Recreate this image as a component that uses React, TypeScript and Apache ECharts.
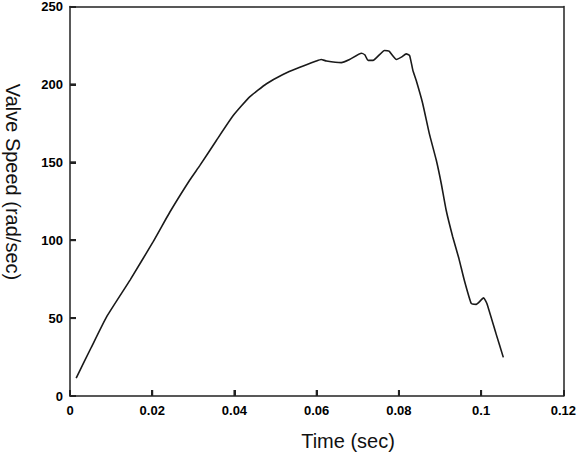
import React, { useEffect, useRef } from "react";
import * as echarts from "echarts";

const timeSec: number[] = [
  0.0015, 0.0051, 0.0089, 0.0146, 0.0202, 0.0243, 0.0291, 0.0316, 0.0356, 0.0397, 0.0437,
  0.0478, 0.0518, 0.0559, 0.0599, 0.0611, 0.0624, 0.066, 0.068, 0.0709, 0.0717,
  0.0725, 0.0737, 0.0765, 0.0776, 0.0794, 0.0806, 0.0818, 0.0826, 0.0834, 0.0842,
  0.0858, 0.0874, 0.0891, 0.0903, 0.0915, 0.0931, 0.0946, 0.0959, 0.0976, 0.0988,
  0.1006, 0.1014, 0.1036, 0.1054,
];
const valveSpeed: number[] = [
  11.5, 30.8, 50.8, 74.4, 98.9, 118.1, 138.5, 148, 164, 180, 192,
  200.4, 206.4, 211, 215, 216, 215, 214, 216, 220, 219,
  215.4, 215.4, 221.8, 221.3, 216, 217.5, 219.6, 218.6, 209, 202.6,
  187.6, 168.4, 151.3, 136.4, 119.2, 102.1, 88.2, 74.4, 59.4, 58.8,
  63, 59.4, 40.2, 24.8,
];
const xTicks: number[] = [0.02, 0.04, 0.06, 0.08, 0.1];
const yTicks: number[] = [50, 100, 150, 200];
const xTitle = "Time (sec)";
const yTitle = "Valve Speed (rad/sec)";

export default function App() {
  const ref = useRef<HTMLDivElement>(null);
  useEffect(() => {
    if (!ref.current) return;
    const chart = echarts.init(ref.current, null, { renderer: "svg" });
    const data = timeSec.map((t, i) => [t, valveSpeed[i]]);
    const axisLabel = {
      color: "#000",
      fontFamily: "Liberation Sans, Arial, sans-serif",
      fontWeight: "bold" as const,
      fontSize: 13,
    };
    const lineStyle = { color: "#222", width: 1.5 };
    const frameAxis = {
      type: "value",
      axisLine: { show: true, onZero: false, lineStyle },
      axisTick: { show: false },
      axisLabel: { show: false },
      splitLine: { show: false },
    };
    chart.setOption({
      animation: false,
      backgroundColor: "#fff",
      grid: { left: 70, top: 6, right: 15, bottom: 60 },
      xAxis: [
        {
          type: "value",
          position: "bottom",
          min: 0,
          max: 0.12,
          interval: 0.02,
          axisLine: { show: true, onZero: false, lineStyle },
          axisTick: { show: true, inside: true, length: 6, lineStyle: { color: "#222", width: 2 } },
          splitLine: { show: false },
          axisLabel: { ...axisLabel, margin: 8 },
        },
        { ...frameAxis, position: "top", min: 0, max: 0.12, interval: 0.02 },
      ],
      yAxis: [
        {
          type: "value",
          position: "left",
          min: 0,
          max: 250,
          interval: 50,
          axisLine: { show: true, onZero: false, lineStyle },
          axisTick: { show: true, inside: true, length: 6, lineStyle: { color: "#222", width: 2 } },
          splitLine: { show: false },
          axisLabel: { ...axisLabel, margin: 7 },
        },
        { ...frameAxis, position: "right", min: 0, max: 250, interval: 50 },
      ],
      series: [
        {
          type: "line",
          data,
          xAxisIndex: 0,
          yAxisIndex: 0,
          showSymbol: false,
          symbol: "none",
          smooth: 0.15,
          lineStyle: { color: "#1a1a1a", width: 1.6 },
        },
      ],
      graphic: [
        {
          type: "text",
          x: 348,
          y: 441,
          style: {
            text: xTitle,
            fill: "#111",
            font: "20px 'Liberation Sans', Arial, sans-serif",
            align: "center",
            verticalAlign: "middle",
          },
        },
        {
          type: "text",
          x: 13,
          y: 182,
          rotation: -Math.PI / 2,
          style: {
            text: yTitle,
            fill: "#111",
            font: "20px 'Liberation Sans', Arial, sans-serif",
            align: "center",
            verticalAlign: "middle",
          },
        },
      ],
    });
    // Tick marks placed through the library's own scales
    const tickEls: any[] = [];
    xTicks.forEach((t) => {
      const p = chart.convertToPixel({ gridIndex: 0 }, [t, 0]) as number[];
      tickEls.push({
        type: "line",
        shape: { x1: p[0], y1: p[1], x2: p[0], y2: p[1] - 6 },
        style: { stroke: "#222", lineWidth: 2 },
        z: 10,
      });
    });
    yTicks.forEach((v) => {
      const p = chart.convertToPixel({ gridIndex: 0 }, [0, v]) as number[];
      tickEls.push({
        type: "line",
        shape: { x1: p[0], y1: p[1], x2: p[0] + 6, y2: p[1] },
        style: { stroke: "#222", lineWidth: 2 },
        z: 10,
      });
    });
    chart.setOption({
      graphic: [
        {
          type: "text",
          x: 348,
          y: 441,
          style: {
            text: xTitle,
            fill: "#111",
            font: "20px 'Liberation Sans', Arial, sans-serif",
            align: "center",
            verticalAlign: "middle",
          },
        },
        {
          type: "text",
          x: 13,
          y: 182,
          rotation: -Math.PI / 2,
          style: {
            text: yTitle,
            fill: "#111",
            font: "20px 'Liberation Sans', Arial, sans-serif",
            align: "center",
            verticalAlign: "middle",
          },
        },
        ...tickEls,
      ],
    });
    return () => chart.dispose();
  }, []);
  return (
    <div
      ref={ref}
      style={{ position: "fixed", left: 0, top: 0, width: 579, height: 456 }}
    />
  );
}
